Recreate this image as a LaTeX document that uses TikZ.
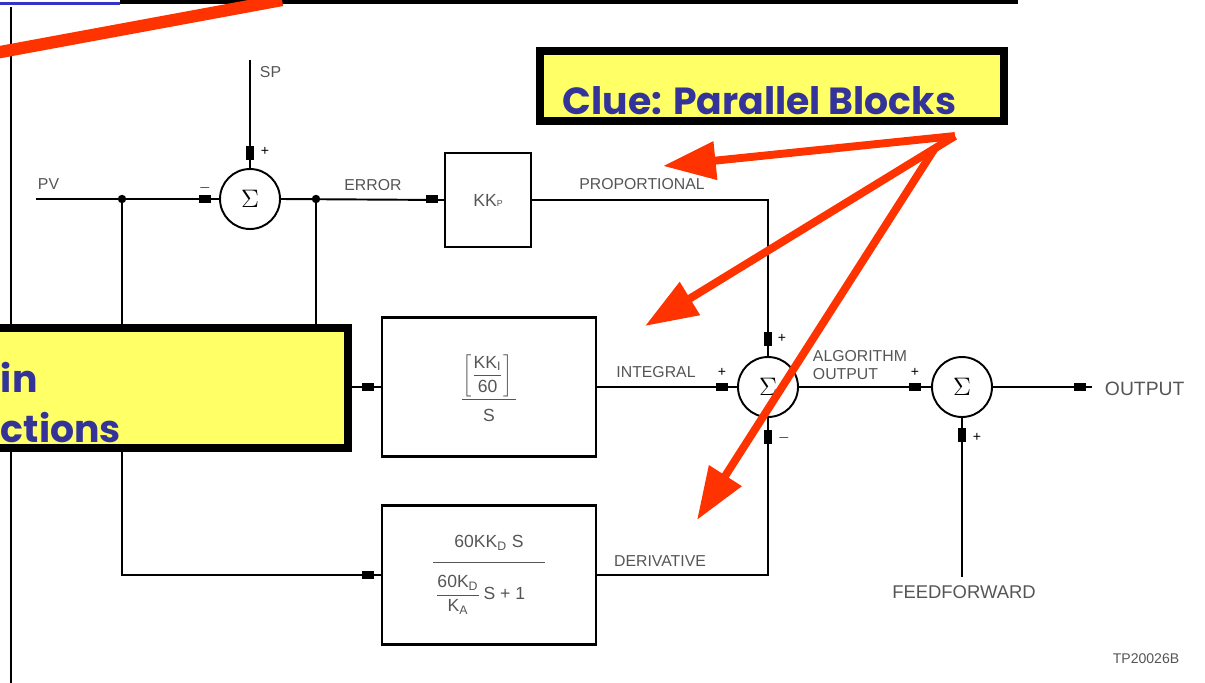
\documentclass[tikz,border=0pt]{standalone}
\usepackage{amsmath}
\usepackage{fontspec}
\usetikzlibrary{arrows.meta}
\newfontfamily\labfont{Liberation Sans}
\newfontfamily\cluefont{Poppins}
\definecolor{clueyellow}{HTML}{FFFF66}
\definecolor{clueblue}{HTML}{333399}
\definecolor{hintred}{HTML}{FF3300}
\definecolor{labgray}{HTML}{555555}

\begin{document}
\begin{tikzpicture}[x=0.02cm, y=-0.02cm, line width=1.1pt,
  sumnode/.style={circle, draw, fill=white, minimum size=1.2cm, inner sep=0pt, font=\Large},
  blk/.style={rectangle, draw, line width=1.3pt, inner sep=0pt, font=\labfont\fontsize{10}{11}\selectfont, text=labgray},
  lab/.style={font=\labfont\fontsize{9}{10}\selectfont, text=labgray, inner sep=0pt},
  sgn/.style={font=\labfont\fontsize{8}{8}\selectfont, inner sep=0pt},
  cluebox/.style={draw=black, line width=4pt, fill=clueyellow},
  cluetext/.style={font=\cluefont\bfseries\fontsize{21.5}{26}\selectfont, text=clueblue, inner sep=0pt},
  hint/.style={draw=hintred, line width=4.5pt, -{Triangle[length=30pt, width=21pt]}}]
  \useasboundingbox (0,0) rectangle (1205,683);
  \fill[blue!60!gray] (0,2) rectangle (120,5);
  \fill (120,0) rectangle (1018,4);
  \draw (11,7) -- (11,683);

  \coordinate (sp) at (250,60);
  \coordinate (pv) at (36,199);
  \coordinate (j1) at (122,199);
  \coordinate (j2) at (316,199);
  \coordinate (out) at (1092,387);
  \coordinate (ff) at (962,577);
  \node[sumnode] (s1) at (250,199) {$\Sigma$};
  \node[sumnode] (s2) at (768,387) {$\Sigma$};
  \node[sumnode] (s3) at (962,387) {$\Sigma$};
  \node[blk, minimum width=1.72cm, minimum height=1.88cm] (kp) at (488,200) {KK{\tiny P}};
  \node[blk, minimum width=4.28cm, minimum height=2.78cm] (ki) at (489,387)
    {$\dfrac{\left[\dfrac{\rule{0pt}{9pt}\text{KK}_\text{I}}{\text{60}\rule[-3pt]{0pt}{0pt}}\right]\rule[-4pt]{0pt}{0pt}}{\rule{0pt}{11pt}\text{S}}$};
  \node[blk, minimum width=4.28cm, minimum height=2.78cm] (kd) at (489,575)
    {$\dfrac{\text{\makebox[64pt]{60KK\textsubscript{D} S}}\rule[-7pt]{0pt}{0pt}}{\dfrac{\rule{0pt}{13pt}\text{60K}_\text{D}}{\text{K}_\text{A}}\,\text{S + 1}\hspace{10pt}}$};

  \draw (sp) -- (s1.north);
  \draw (pv) -- (s1.west);
  \draw (s1.east) -- (kp.west);
  \draw (kp.east) -| (s2.north);
  \draw (j1) |- (kd.west);
  \draw (j2) |- (ki.west);
  \draw (ki.east) -- (s2.west);
  \draw (kd.east) -| (s2.south);
  \draw (s2.east) -- (s3.west);
  \draw (s3.east) -- (out);
  \draw (ff) -- (s3.south);
  \fill (j1) circle (2.4pt) (j2) circle (2.4pt);
  \foreach \x/\y in {205/199, 432/199, 368/387, 368/575, 722/387, 915/387, 1080/387}
    \fill (\x-6,\y-4) rectangle (\x+6,\y+4);
  \foreach \x/\y in {250/153, 768/339, 768/437, 962/435}
    \fill (\x-4,\y-7) rectangle (\x+4,\y+7);

  \node[lab, anchor=west] (splab) at (259,72) {SP};
  \node[lab, anchor=west] (pvlab) at (37,184) {PV};
  \node[lab] (errlab) at (373,185) {ERROR};
  \node[lab] (proplab) at (642,184) {PROPORTIONAL};
  \node[lab] (intlab) at (656,372) {INTEGRAL};
  \node[lab] (derlab) at (660,561) {DERIVATIVE};
  \node[lab, anchor=west, align=left] (alglab) at (812,365) {ALGORITHM\\OUTPUT};
  \node[lab, anchor=west, font=\labfont\fontsize{11}{12}\selectfont] (outlab) at (1104,389) {OUTPUT};
  \node[lab, font=\labfont\fontsize{10.5}{12}\selectfont] (fflab) at (964,592) {FEEDFORWARD};
  \node[lab, font=\labfont\fontsize{8}{9}\selectfont] (tplab) at (1146,659) {TP20026B};
  \node[sgn] (sg1) at (265,151) {+};
  \node[sgn] (sg2) at (205,188) {$-$};
  \node[sgn] (sg3) at (782,338) {+};
  \node[sgn] (sg4) at (722,372) {+};
  \node[sgn] (sg5) at (784,438) {$-$};
  \node[sgn] (sg6) at (915,372) {+};
  \node[sgn] (sg7) at (977,437) {+};

  \draw[cluebox] (-20,328) rectangle (348,448);
  \node[cluetext, anchor=base west] (fn1) at (0,392) {in};
  \node[cluetext, anchor=base west] (fn2) at (0,442) {ctions};
  \draw[cluebox] (540,51) rectangle (1004,121);
  \node[cluetext, anchor=base west] (clue) at (562,114) {Clue: Parallel Blocks};

  \draw[hintred, line width=7pt] (-5,53) -- (282,0);
  \coordinate (hub) at (955,136);
  \draw[hint] (hub) -- (663,166);
  \draw[hint] (hub) -- (645,326);
  \draw[hint] (935,148) -- (697,520);
\end{tikzpicture}
\end{document}
